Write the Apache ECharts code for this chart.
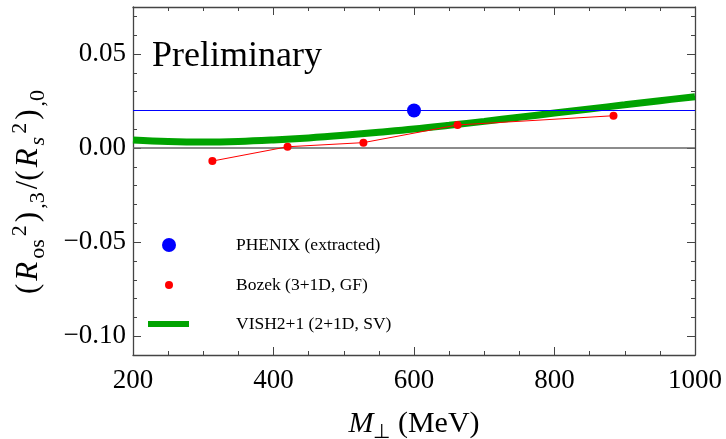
<!DOCTYPE html>
<html>
<head>
<meta charset="utf-8">
<script src="https://cdn.jsdelivr.net/npm/echarts@6/dist/echarts.min.js"></script>
<style>
  html, body { margin: 0; padding: 0; background: #fff; }
  #chart-container { width: 726px; height: 439px; }
</style>
</head>
<body>
<div id="chart-container"></div>
<script>
// values
const phenixX = [600];
const phenixY = [0.020];

const bozekX = [313, 420, 528, 662, 884];
const bozekY = [-0.0069, 0.0007, 0.0029, 0.0123, 0.0172];

const vishX = [200, 250, 300, 350, 400, 450, 500, 550, 600, 650, 700, 750, 800, 850, 900, 950, 1000];
const vishY = [0.0043, 0.0035, 0.0032, 0.0035, 0.0043, 0.0054, 0.0068, 0.0084, 0.0101, 0.0121, 0.0142, 0.0164, 0.0186, 0.0208, 0.0230, 0.0252, 0.0273];

const yMajorTicks = [-0.10, -0.05, 0.00, 0.05];

const FONT = "'Liberation Serif', 'Times New Roman', serif";
const AXIS_COLOR = '#444';

const zip = (xs, ys) => xs.map((x, i) => [x, ys[i]]);

const dom = document.getElementById('chart-container');
const myChart = echarts.init(dom, null, { renderer: 'canvas' });

const fmtY = (v) => {
  const s = Math.abs(v).toFixed(2);
  return v < -1e-9 ? '\u2212' + s : s;
};

const xAxisBase = {
  type: 'value',
  min: 200,
  max: 1000,
  interval: 200,
  splitLine: { show: false },
  axisLine: { show: true, onZero: false, lineStyle: { color: AXIS_COLOR, width: 1.3 } },
  axisTick: { show: true, inside: true, length: 8, lineStyle: { color: AXIS_COLOR, width: 1 } },
  minorTick: { show: true, splitNumber: 4, length: 4, lineStyle: { color: AXIS_COLOR, width: 1 } },
};

const yMinorBase = {
  type: 'value',
  min: -0.11,
  max: 0.075,
  interval: 0.01,
  splitLine: { show: false },
  axisLine: { show: true, onZero: false, lineStyle: { color: AXIS_COLOR, width: 1.3 } },
  axisTick: { show: true, inside: true, length: 4, lineStyle: { color: AXIS_COLOR, width: 1 } },
  axisLabel: { show: false },
};

const yMajorBase = {
  type: 'value',
  min: -0.11,
  max: 0.075,
  splitLine: { show: false },
  axisLine: { show: false },
  axisTick: { show: true, inside: true, length: 8, customValues: yMajorTicks, lineStyle: { color: AXIS_COLOR, width: 1 } },
};

const legendText = { fontFamily: FONT, fontSize: 17.5, color: '#000' };

// rich text pieces for the axis titles
const P = [0, 1.5, 0, 1.5];
const yNameRich = {
  n: { fontFamily: FONT, fontSize: 31, color: '#000', lineHeight: 40, padding: P },
  i: { fontFamily: FONT, fontSize: 31, fontStyle: 'italic', color: '#000', lineHeight: 40, padding: P },
  sub: { fontFamily: FONT, fontSize: 22, color: '#000', verticalAlign: 'bottom', lineHeight: 20, padding: P },
  subi: { fontFamily: FONT, fontSize: 22, fontStyle: 'italic', color: '#000', verticalAlign: 'bottom', lineHeight: 20, padding: P },
  sup: { fontFamily: FONT, fontSize: 22, color: '#000', verticalAlign: 'top', lineHeight: 20, padding: P },
};

const option = {
  animation: false,
  backgroundColor: '#fff',
  grid: { left: 133, right: 31, top: 7, bottom: 84, outerBoundsMode: 'none', containLabel: false },
  title: {
    text: 'Preliminary',
    left: 152,
    top: 39,
    padding: 0,
    textStyle: { fontFamily: FONT, fontSize: 36, fontWeight: 'normal', color: '#000' },
  },
  legend: [
    {
      data: ['PHENIX (extracted)'],
      left: 162, top: 236, padding: 0,
      icon: 'circle', itemWidth: 14, itemHeight: 14,
      itemStyle: { opacity: 1 },
      textStyle: { ...legendText, padding: [0, 0, 0, 55] }, selectedMode: false,
    },
    {
      data: ['Bozek (3+1D, GF)'],
      left: 165, top: 276, padding: 0,
      icon: 'circle', itemWidth: 8, itemHeight: 8,
      itemStyle: { opacity: 1 },
      textStyle: { ...legendText, padding: [0, 0, 0, 58] }, selectedMode: false,
    },
    {
      data: ['VISH2+1 (2+1D, SV)'],
      left: 148, top: 315, padding: 0,
      icon: 'rect', itemWidth: 41, itemHeight: 6,
      itemStyle: { opacity: 1 },
      textStyle: { ...legendText, padding: [0, 0, 0, 42] }, selectedMode: false,
    },
  ],
  xAxis: [
    {
      ...xAxisBase,
      position: 'bottom',
      axisLabel: { show: true, margin: 12, fontFamily: FONT, fontSize: 27, color: '#000', formatter: (v) => String(v) },
      name: '{i|M}{sub|\u22A5}{n| (MeV)}',
      nameLocation: 'middle',
      nameGap: 50,
      nameTextStyle: {
        rich: {
          i: { fontFamily: FONT, fontSize: 30, fontStyle: 'italic', color: '#000', lineHeight: 38 },
          n: { fontFamily: FONT, fontSize: 30, color: '#000', lineHeight: 38 },
          sub: { fontFamily: FONT, fontSize: 20, color: '#000', verticalAlign: 'bottom', lineHeight: 30 },
        },
      },
    },
    {
      ...xAxisBase,
      position: 'top',
      axisLabel: { show: false },
    },
  ],
  yAxis: [
    {
      ...yMinorBase,
      position: 'left',
      name: '{n|(}{i|R}{sub|os}{sup|2}{n|)}{sub|,3}{n|/(}{i|R}{subi|s}{sup|2}{n|)}{sub|,0}',
      nameLocation: 'middle',
      nameRotate: 90,
      nameGap: 84,
      nameTextStyle: {
        padding: [0, 22, 0, 0],
        rich: yNameRich,
      },
    },
    {
      ...yMajorBase,
      position: 'left',
      axisLabel: {
        show: true,
        customValues: yMajorTicks,
        margin: 7,
        fontFamily: FONT,
        fontSize: 27,
        color: '#000',
        formatter: fmtY,
      },
    },
    { ...yMinorBase, position: 'right' },
    { ...yMajorBase, position: 'right', axisLabel: { show: false } },
  ],
  series: [
    {
      name: 'VISH2+1 (2+1D, SV)',
      type: 'line',
      xAxisIndex: 0,
      yAxisIndex: 0,
      data: zip(vishX, vishY),
      smooth: 0.4,
      showSymbol: false,
      symbol: 'none',
      itemStyle: { color: '#00a300' },
      lineStyle: { color: '#00a300', width: 7 },
      z: 2,
      markLine: {
        silent: true,
        symbol: 'none',
        label: { show: false },
        lineStyle: { color: '#666', width: 1.5, type: 'solid' },
        data: [{ yAxis: 0 }],
        z: 1,
      },
    },
    {
      name: 'Bozek (3+1D, GF)',
      type: 'line',
      xAxisIndex: 0,
      yAxisIndex: 0,
      data: zip(bozekX, bozekY),
      symbol: 'circle',
      symbolSize: 8,
      itemStyle: { color: '#ff0000', opacity: 1 },
      lineStyle: { color: '#ff0000', width: 1 },
      z: 3,
    },
    {
      name: 'PHENIX (extracted)',
      type: 'scatter',
      xAxisIndex: 0,
      yAxisIndex: 0,
      data: zip(phenixX, phenixY),
      symbol: 'circle',
      symbolSize: 14,
      itemStyle: { color: '#0000ff', opacity: 1 },
      z: 4,
      markLine: {
        silent: true,
        symbol: 'none',
        label: { show: false },
        lineStyle: { color: '#0000ff', width: 1.2, type: 'solid' },
        data: [{ yAxis: phenixY[0] }],
      },
    },
  ],
};

myChart.setOption(option);
window.addEventListener('resize', myChart.resize);
</script>
</body>
</html>
